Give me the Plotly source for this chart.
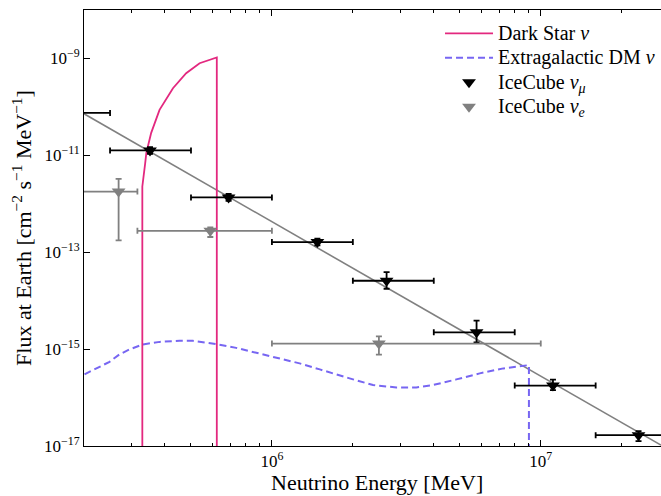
import plotly.graph_objects as go

# ---------------- data ----------------
# grey reference power law (end points)
line_E = [2.0e5, 2.8e7]
line_F = [7.2e-11, 1.04e-17]

# Dark Star neutrino flux
ds_E = [3.296e5, 3.296e5, 3.378e5, 3.412e5, 3.556e5, 3.819e5, 4.285e5,
        4.797e5, 5.383e5, 6.237e5, 6.237e5]
ds_F = [1e-20, 2.28e-12, 6.9e-12, 1.13e-11, 2.91e-11, 8.67e-11, 2.43e-10,
        4.95e-10, 7.96e-10, 1.05e-9, 1e-20]

# Extragalactic DM neutrino flux
dm_E = [2.009e5, 2.223e5, 2.489e5, 2.710e5, 2.951e5, 3.311e5, 3.819e5,
        4.539e5, 5.082e5, 6.209e5, 7.362e5, 8.750e5, 1.069e6, 1.268e6,
        1.507e6, 1.762e6, 1.945e6, 2.377e6, 2.904e6, 3.443e6, 3.972e6,
        4.853e6, 5.929e6, 7.261e6, 8.730e6, 9.036e6, 9.036e6]
dm_F = [3.01e-16, 4.00e-16, 5.47e-16, 7.78e-16, 9.86e-16, 1.25e-15, 1.41e-15,
        1.48e-15, 1.48e-15, 1.27e-15, 1.06e-15, 8.39e-16, 6.43e-16, 5.07e-16,
        3.81e-16, 2.91e-16, 2.49e-16, 1.81e-16, 1.62e-16, 1.62e-16, 1.81e-16,
        2.37e-16, 3.16e-16, 4.00e-16, 4.68e-16, 4.68e-16, 1e-20]

# IceCube nu_mu
mu_E = [1.77e5, 3.52e5, 6.90e5, 1.476e6, 2.67e6, 5.77e6, 1.11e7, 2.31e7]
mu_Elo = [1.25e5, 2.5e5, 5.0e5, 1.0e6, 2.0e6, 4.0e6, 8.0e6, 1.6e7]
mu_Ehi = [2.5e5, 5.0e5, 1.0e6, 2.0e6, 4.0e6, 8.0e6, 1.6e7, 3.2e7]
mu_F = [7.52e-11, 1.26e-11, 1.35e-12, 1.62e-13, 2.58e-14, 2.22e-15, 1.77e-16, 1.67e-17]
mu_Fhi = [8.84e-11, 1.48e-11, 1.59e-12, 1.90e-13, 3.90e-14, 3.87e-15, 2.35e-16, 2.02e-17]
mu_Flo = [6.40e-11, 1.07e-11, 1.15e-12, 1.38e-13, 1.76e-14, 1.38e-15, 1.42e-16, 1.26e-17]

# IceCube nu_e
e_E = [2.69e5, 5.90e5, 2.50e6]
e_Elo = [1.0e5, 3.16e5, 1.0e6]
e_Ehi = [3.16e5, 1.0e6, 1.0e7]
e_F = [1.79e-12, 2.77e-13, 1.30e-15]
e_Fhi = [3.27e-12, 3.27e-13, 1.84e-15]
e_Flo = [1.75e-13, 2.06e-13, 7.71e-16]

x_ticks = [1e6, 1e7]
x_ticktext = ["10<sup>6</sup>", "10<sup>7</sup>"]
x_minor = [3e5, 4e5, 5e5, 6e5, 7e5, 8e5, 9e5,
           2e6, 3e6, 4e6, 5e6, 6e6, 7e6, 8e6, 9e6, 2e7]
y_ticks = [1e-9, 1e-11, 1e-13, 1e-15, 1e-17]
y_ticktext = ["10<sup>−9</sup>", "10<sup>−11</sup>", "10<sup>−13</sup>",
              "10<sup>−15</sup>", "10<sup>−17</sup>"]

PINK = "#e3287f"
DMCOL = "#7766f2"
GREY = "#808080"
FONT = "Liberation Serif"


def leg(txt):
    return '<span style="font-size:20px">' + txt + '</span>'


fig = go.Figure()

fig.add_trace(go.Scatter(x=line_E, y=line_F, mode="lines",
                         line=dict(color=GREY, width=1.6), showlegend=False))
fig.add_trace(go.Scatter(x=dm_E, y=dm_F, mode="lines",
                         line=dict(color=DMCOL, width=2, dash="7px,4px"),
                         name=leg("Extragalactic DM <i>ν</i>"), legendrank=2))
fig.add_trace(go.Scatter(x=ds_E, y=ds_F, mode="lines",
                         line=dict(color=PINK, width=1.8),
                         name=leg("Dark Star <i>ν</i>"), legendrank=1))

fig.add_trace(go.Scatter(
    x=mu_E, y=mu_F, mode="markers",
    marker=dict(symbol="triangle-down", size=12, color="black"),
    error_x=dict(type="data", symmetric=False,
                 array=[h - c for h, c in zip(mu_Ehi, mu_E)],
                 arrayminus=[c - l for l, c in zip(mu_Elo, mu_E)],
                 color="black", thickness=1.8, width=3),
    error_y=dict(type="data", symmetric=False,
                 array=[h - c for h, c in zip(mu_Fhi, mu_F)],
                 arrayminus=[c - l for l, c in zip(mu_Flo, mu_F)],
                 color="black", thickness=1.8, width=3),
    name=leg("IceCube <i>ν</i><sub><i>μ</i></sub>"), legendrank=3))

fig.add_trace(go.Scatter(
    x=e_E, y=e_F, mode="markers",
    marker=dict(symbol="triangle-down", size=12, color=GREY),
    error_x=dict(type="data", symmetric=False,
                 array=[h - c for h, c in zip(e_Ehi, e_E)],
                 arrayminus=[c - l for l, c in zip(e_Elo, e_E)],
                 color=GREY, thickness=1.8, width=3),
    error_y=dict(type="data", symmetric=False,
                 array=[h - c for h, c in zip(e_Fhi, e_F)],
                 arrayminus=[c - l for l, c in zip(e_Flo, e_F)],
                 color=GREY, thickness=1.8, width=3),
    name=leg("IceCube <i>ν</i><sub><i>e</i></sub>"), legendrank=4))

fig.update_layout(
    width=661, height=496,
    margin=dict(l=84, r=0, t=10, b=50),
    paper_bgcolor="white", plot_bgcolor="white",
    font=dict(family=FONT, size=17, color="black"),
    legend=dict(x=0.617, y=0.986, xanchor="left", yanchor="top",
                bgcolor="rgba(0,0,0,0)", font=dict(size=16.5, family=FONT),
                tracegroupgap=0, itemwidth=48),
    annotations=[
        dict(text="Neutrino Energy [MeV]", xref="paper", yref="paper",
             x=0.508, y=-0.083, xanchor="center", yanchor="middle",
             showarrow=False, font=dict(size=22, family=FONT)),
        dict(text="Flux at Earth [cm<sup>−2</sup> s<sup>−1</sup> MeV<sup>−1</sup>]",
             xref="paper", yref="paper", x=-0.1075, y=0.5, textangle=-90,
             xanchor="center", yanchor="middle",
             showarrow=False, font=dict(size=22, family=FONT)),
    ],
)

fig.update_xaxes(type="log", range=[5.30103, 7.4472],
                 tickvals=x_ticks, ticktext=x_ticktext,
                 ticks="inside", ticklen=6, tickwidth=1, tickcolor="black",
                 minor=dict(tickvals=x_minor, ticks="inside", ticklen=3,
                            tickwidth=1, tickcolor="black", showgrid=False),
                 showline=True, linecolor="black", linewidth=1, mirror="ticks",
                 showgrid=False, zeroline=False, tickfont=dict(size=17))
fig.update_yaxes(type="log", range=[-17, -8],
                 tickvals=y_ticks, ticktext=y_ticktext,
                 ticks="inside", ticklen=6, tickwidth=1, tickcolor="black",
                 showline=True, linecolor="black", linewidth=1, mirror=False,
                 showgrid=False, zeroline=False, tickfont=dict(size=17))

fig.write_html("out.html")
